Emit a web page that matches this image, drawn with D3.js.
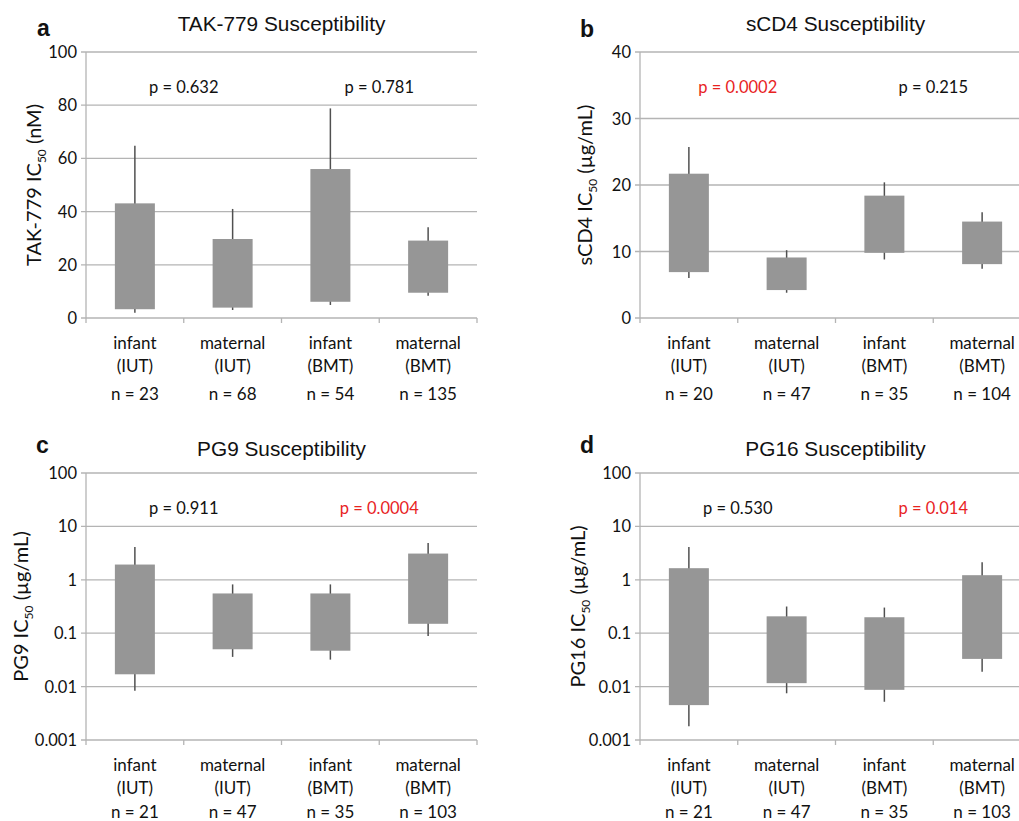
<!DOCTYPE html>
<meta charset="utf-8">
<style>
body { margin: 0; background: white; }
svg { display: block; }
.tick-lab, .cat, .p, .ytitle { font-family: Lato, "Open Sans", sans-serif; fill: #111; }
.title { font-family: "Liberation Sans", Arial, sans-serif; font-size: 20.8px; fill: #111; }
.panel-lab { font-family: "Liberation Sans", Arial, sans-serif; font-size: 23px; font-weight: bold; fill: #111; }
</style>
<body>
<svg width="1019" height="821"></svg>
<script src="https://cdn.jsdelivr.net/npm/d3@7"></script>
<script>

// categories along the x axis
var catTop = ["infant", "maternal", "infant", "maternal"];
var catBottom = ["(IUT)", "(IUT)", "(BMT)", "(BMT)"];

// a: TAK-779 (nM)
var takWhiskLow = [2.0, 3.0, 4.9, 8.4];
var takBoxLow = [3.3, 3.9, 6.1, 9.5];
var takBoxHigh = [43.1, 29.7, 56.0, 29.1];
var takWhiskHigh = [64.8, 41.0, 78.8, 34.1];
var takN = [23, 68, 54, 135];
var takP = ["p = 0.632", "p = 0.781"];
var takSig = [false, false];
var takTicks = [0, 20, 40, 60, 80, 100];

// b: sCD4 (ug/mL)
var cd4WhiskLow = [6.0, 3.8, 8.8, 7.4];
var cd4BoxLow = [6.9, 4.2, 9.8, 8.1];
var cd4BoxHigh = [21.7, 9.1, 18.4, 14.5];
var cd4WhiskHigh = [25.7, 10.2, 20.4, 15.9];
var cd4N = [20, 47, 35, 104];
var cd4P = ["p = 0.0002", "p = 0.215"];
var cd4Sig = [true, false];
var cd4Ticks = [0, 10, 20, 30, 40];

// c: PG9 (ug/mL), log scale
var pg9WhiskLow = [0.0084, 0.036, 0.032, 0.089];
var pg9BoxLow = [0.017, 0.050, 0.047, 0.15];
var pg9BoxHigh = [1.93, 0.555, 0.555, 3.1];
var pg9WhiskHigh = [4.1, 0.82, 0.82, 4.9];
var pg9N = [21, 47, 35, 103];
var pg9P = ["p = 0.911", "p = 0.0004"];
var pg9Sig = [false, true];

// d: PG16 (ug/mL), log scale
var pg16WhiskLow = [0.0018, 0.0075, 0.0052, 0.019];
var pg16BoxLow = [0.0045, 0.0116, 0.0087, 0.033];
var pg16BoxHigh = [1.65, 0.207, 0.199, 1.22];
var pg16WhiskHigh = [4.1, 0.316, 0.302, 2.14];
var pg16N = [21, 47, 35, 103];
var pg16P = ["p = 0.530", "p = 0.014"];
var pg16Sig = [false, true];

var logTicks = [0.001, 0.01, 0.1, 1, 10, 100];

var svg = d3.select("svg");
var gridCol = "#b4b4b4", boxCol = "#969696", whiskCol = "#505050";

function rows(wl, bl, bh, wh, n) {
  return catTop.map(function(c, i) {
    return { top: c, bottom: catBottom[i], wl: wl[i], bl: bl[i], bh: bh[i], wh: wh[i], n: n[i] };
  });
}

var panels = [
  { lab: "a", title: "TAK-779 Susceptibility", yname: "TAK-779 IC", yunit: " (nM)",
    x0: 86, x1: 477, y0: 52, y1: 318, titleY: 31, labX: 37, labY: 36, ytX: 41, nY: 82,
    log: false, domain: [0, 100], ticks: takTicks,
    data: rows(takWhiskLow, takBoxLow, takBoxHigh, takWhiskHigh, takN), p: takP, sig: takSig },
  { lab: "b", title: "sCD4 Susceptibility", yname: "sCD4 IC", yunit: " (\u00b5g/mL)",
    x0: 640, x1: 1031, y0: 52, y1: 318, titleY: 31, labX: 580, labY: 37, ytX: 592, nY: 82,
    log: false, domain: [0, 40], ticks: cd4Ticks,
    data: rows(cd4WhiskLow, cd4BoxLow, cd4BoxHigh, cd4WhiskHigh, cd4N), p: cd4P, sig: cd4Sig },
  { lab: "c", title: "PG9 Susceptibility", yname: "PG9 IC", yunit: " (\u00b5g/mL)",
    x0: 86, x1: 477, y0: 473, y1: 740, titleY: 456, labX: 36, labY: 453, ytX: 28, nY: 78,
    log: true, domain: [0.001, 100], ticks: logTicks,
    data: rows(pg9WhiskLow, pg9BoxLow, pg9BoxHigh, pg9WhiskHigh, pg9N), p: pg9P, sig: pg9Sig },
  { lab: "d", title: "PG16 Susceptibility", yname: "PG16 IC", yunit: " (\u00b5g/mL)",
    x0: 640, x1: 1031, y0: 473, y1: 740, titleY: 456, labX: 580, labY: 453, ytX: 585, nY: 78,
    log: true, domain: [0.001, 100], ticks: logTicks,
    data: rows(pg16WhiskLow, pg16BoxLow, pg16BoxHigh, pg16WhiskHigh, pg16N), p: pg16P, sig: pg16Sig }
];

panels.forEach(function(P) {
  var g = svg.append("g");
  var y = (P.log ? d3.scaleLog() : d3.scaleLinear()).domain(P.domain).range([P.y1, P.y0]);
  var x = d3.scaleBand().domain(d3.range(4)).range([P.x0, P.x1]);
  var bw = 40;

  // gridlines + y labels
  g.selectAll(".grid").data(P.ticks).enter().append("line")
    .attr("x1", P.x0 - 5).attr("x2", P.x1)
    .attr("y1", function(d) { return y(d); }).attr("y2", function(d) { return y(d); })
    .attr("stroke", gridCol).attr("stroke-width", 1.3);
  g.selectAll(".tick-lab").data(P.ticks).enter().append("text")
    .attr("class", "tick-lab")
    .attr("x", P.x0 - 9).attr("y", function(d) { return y(d) + 6; })
    .attr("text-anchor", "end").style("font-size", "16.5px")
    .text(function(d) { return P.log ? String(d) : d; });

  // axes
  g.append("line").attr("x1", P.x0).attr("x2", P.x0).attr("y1", P.y0).attr("y2", P.y1)
    .attr("stroke", gridCol).attr("stroke-width", 1.3);
  var bounds = d3.range(5).map(function(i) { return P.x0 + i * x.bandwidth(); });
  g.selectAll(".xt").data(bounds).enter().append("line")
    .attr("x1", function(d) { return d; }).attr("x2", function(d) { return d; })
    .attr("y1", P.y1).attr("y2", P.y1 + 5)
    .attr("stroke", gridCol).attr("stroke-width", 1.3);

  // whiskers then boxes
  g.selectAll(".wh").data(P.data).enter().append("line")
    .attr("x1", function(d, i) { return x(i) + x.bandwidth() / 2; })
    .attr("x2", function(d, i) { return x(i) + x.bandwidth() / 2; })
    .attr("y1", function(d) { return y(d.wl); }).attr("y2", function(d) { return y(d.wh); })
    .attr("stroke", whiskCol).attr("stroke-width", 1.5);
  g.selectAll(".box").data(P.data).enter().append("rect")
    .attr("x", function(d, i) { return x(i) + x.bandwidth() / 2 - bw / 2; })
    .attr("width", bw)
    .attr("y", function(d) { return y(d.bh); })
    .attr("height", function(d) { return y(d.bl) - y(d.bh); })
    .attr("fill", boxCol);

  // category labels
  P.data.forEach(function(d, i) {
    var cx = x(i) + x.bandwidth() / 2;
    [[d.top, 31], [d.bottom, 54], ["n = " + d.n, P.nY]].forEach(function(t) {
      g.append("text").attr("class", "cat").attr("x", cx).attr("y", P.y1 + t[1])
        .attr("text-anchor", "middle").style("font-size", "17px").text(t[0]);
    });
  });

  // p values sit over the tick between each pair
  P.p.forEach(function(s, i) {
    g.append("text").attr("class", "p")
      .attr("x", bounds[1 + 2 * i]).attr("y", P.y0 + (P.y1 - P.y0) * 0.155)
      .attr("text-anchor", "middle").style("font-size", "16.5px")
      .style("fill", P.sig[i] ? "#e8231f" : "#111").text(s);
  });

  // title, panel letter, y title
  g.append("text").attr("class", "title").attr("x", (P.x0 + P.x1) / 2).attr("y", P.titleY)
    .attr("text-anchor", "middle").text(P.title);
  g.append("text").attr("class", "panel-lab").attr("x", P.labX).attr("y", P.labY).text(P.lab);
  var yt = g.append("text").attr("class", "ytitle")
    .attr("transform", "translate(" + P.ytX + "," + (P.y0 + P.y1) / 2 + ") rotate(-90)")
    .attr("text-anchor", "middle").style("font-size", "20px");
  yt.append("tspan").text(P.yname);
  yt.append("tspan").attr("dy", 5).style("font-size", "12px").text("50");
  yt.append("tspan").attr("dy", -5).text(P.yunit);
});

</script>
</body>
